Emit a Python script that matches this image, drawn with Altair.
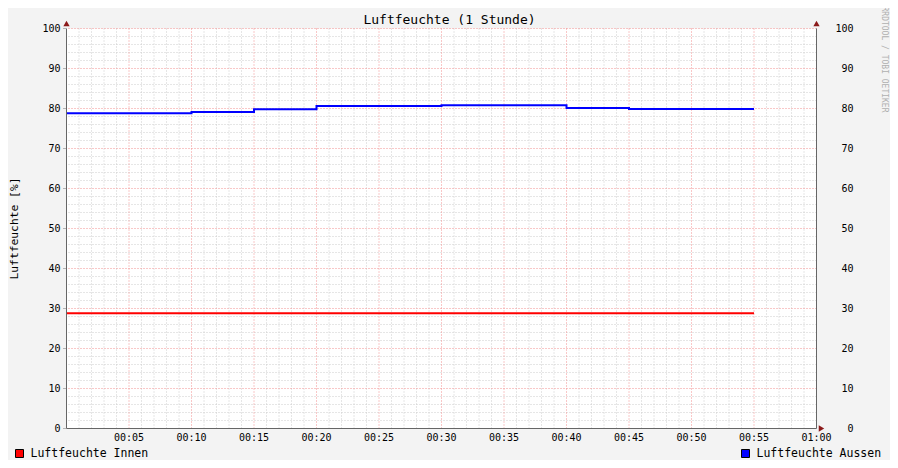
import altair as alt
import pandas as pd

# ---- data ----
minutes_innen = [0, 55]
innen = [28.8, 28.8]
minutes_aussen = [0, 10, 15, 20, 30, 40, 45, 55]
aussen = [78.8, 79.1, 79.8, 80.6, 80.8, 80.1, 79.9, 79.9]

x_labels = [5, 10, 15, 20, 25, 30, 35, 40, 45, 50, 55, 60]
x_label_text = ["00:05", "00:10", "00:15", "00:20", "00:25", "00:30",
                "00:35", "00:40", "00:45", "00:50", "00:55", "01:00"]
y_labels = [0, 10, 20, 30, 40, 50, 60, 70, 80, 90, 100]
x_major = [5, 10, 15, 20, 25, 30, 35, 40, 45, 50, 55]
x_minor = [m for m in range(1, 60) if m % 5 != 0]
y_major = [10, 20, 30, 40, 50, 60, 70, 80, 90, 100]
y_minor = [v for v in range(2, 100, 2) if v % 10 != 0]

series_names = ["Luftfeuchte Innen", "Luftfeuchte Aussen"]
series_colors = ["#ff0000", "#0000ff"]
title_text = "Luftfeuchte (1 Stunde)"
y_title_text = "Luftfeuchte [%]"
watermark_text = "RRDTOOL / TOBI OETIKER"

FONT = "DejaVu Sans Mono"
xs = alt.Scale(domain=[0, 60], nice=False, zero=False)
ys = alt.Scale(domain=[0, 100], nice=False, zero=True)


def X(field):
    return alt.X(field, scale=xs, axis=None)


def Y(field):
    return alt.Y(field, scale=ys, axis=None)


df_in = pd.DataFrame({"m": minutes_innen, "v": innen})
df_out = pd.DataFrame({"m": minutes_aussen, "v": aussen})

minor_x = alt.Chart(pd.DataFrame({"m": x_minor})).mark_rule(
    color="#cccccc", strokeDash=[1, 2], strokeWidth=1
).encode(x=X("m:Q"))

minor_y = alt.Chart(pd.DataFrame({"v": y_minor})).mark_rule(
    color="#cccccc", strokeDash=[1, 2], strokeWidth=1
).encode(y=Y("v:Q"))

major_x = alt.Chart(pd.DataFrame({"m": x_major})).mark_rule(
    color="#f39090", strokeDash=[1, 2], strokeWidth=1
).encode(x=X("m:Q"))

major_y = alt.Chart(pd.DataFrame({"v": y_major})).mark_rule(
    color="#f39090", strokeDash=[1, 2], strokeWidth=1
).encode(y=Y("v:Q"))

line_in = alt.Chart(df_in).mark_line(
    interpolate="step-after", color=series_colors[0], strokeWidth=2
).encode(x=X("m:Q"), y=Y("v:Q"))

line_out = alt.Chart(df_out).mark_line(
    interpolate="step-after", color=series_colors[1], strokeWidth=2
).encode(x=X("m:Q"), y=Y("v:Q"))

# axis lines
axis_v = alt.Chart(pd.DataFrame({"m": [0, 60]})).mark_rule(
    color="#666666", strokeWidth=1
).encode(x=X("m:Q"))
axis_h = alt.Chart(pd.DataFrame({"v": [0]})).mark_rule(
    color="#666666", strokeWidth=1
).encode(y=Y("v:Q"))

# small ticks left of the left axis
ticks_left = alt.Chart(pd.DataFrame({"v": y_labels})).mark_tick(
    color="#999999", thickness=1, size=3, xOffset=-2
).encode(y=Y("v:Q"), x=alt.value(0))

# tick labels
x_lab = alt.Chart(pd.DataFrame({"m": x_labels, "t": x_label_text})).mark_text(
    font=FONT, fontSize=10, align="center", baseline="middle", color="black"
).encode(x=X("m:Q"), y=alt.value(409), text="t:N")

y_lab_left = alt.Chart(pd.DataFrame({"v": y_labels})).mark_text(
    font=FONT, fontSize=10, align="right", baseline="middle", color="black"
).encode(y=Y("v:Q"), x=alt.value(-6), text="v:Q")

y_lab_right = alt.Chart(pd.DataFrame({"v": y_labels})).mark_text(
    font=FONT, fontSize=10, align="right", baseline="middle", color="black"
).encode(y=Y("v:Q"), x=alt.value(787), text="v:Q")

arrows_up = alt.Chart(pd.DataFrame({"m": [0, 60], "v": [100, 100]})).mark_point(
    shape="triangle-up", filled=True, color="#8b1a1a", size=40, yOffset=-5, opacity=1
).encode(x=X("m:Q"), y=Y("v:Q"))

arrow_right = alt.Chart(pd.DataFrame({"m": [60], "v": [0]})).mark_point(
    shape="triangle-right", filled=True, color="#8b1a1a", size=40, xOffset=5, opacity=1
).encode(x=X("m:Q"), y=Y("v:Q"))

title = alt.Chart(pd.DataFrame({"t": [title_text]})).mark_text(
    font=FONT, fontSize=13, align="center", baseline="middle", color="black"
).encode(text="t:N", x=alt.value(383), y=alt.value(-9))

y_title = alt.Chart(pd.DataFrame({"t": [y_title_text]})).mark_text(
    font=FONT, fontSize=11.3, align="center", baseline="middle", angle=270, color="black"
).encode(text="t:N", x=alt.value(-52), y=alt.value(200))

watermark = alt.Chart(pd.DataFrame({"t": [watermark_text]})).mark_text(
    font=FONT, fontSize=8, align="center", baseline="middle", angle=90, color="#b0b0b0"
).encode(text="t:N", x=alt.value(817), y=alt.value(31))

leg_in_box = alt.Chart(pd.DataFrame({"n": [series_names[0]]})).mark_point(
    shape="square", filled=True, fill=series_colors[0], stroke="black",
    strokeWidth=1, size=64, opacity=1
).encode(x=alt.value(-47), y=alt.value(425))
leg_in_txt = alt.Chart(pd.DataFrame({"n": [series_names[0]]})).mark_text(
    font=FONT, fontSize=11.5, align="left", baseline="middle", color="black"
).encode(text="n:N", x=alt.value(-36), y=alt.value(425))

leg_out_box = alt.Chart(pd.DataFrame({"n": [series_names[1]]})).mark_point(
    shape="square", filled=True, fill=series_colors[1], stroke="black",
    strokeWidth=1, size=64, opacity=1
).encode(x=alt.value(679), y=alt.value(425))
leg_out_txt = alt.Chart(pd.DataFrame({"n": [series_names[1]]})).mark_text(
    font=FONT, fontSize=11.5, align="left", baseline="middle", color="black"
).encode(text="n:N", x=alt.value(690), y=alt.value(425))

chart = alt.layer(
    minor_x, minor_y, major_x, major_y, line_in, line_out,
    axis_v, axis_h, ticks_left, x_lab, y_lab_left, y_lab_right,
    arrows_up, arrow_right, title, y_title, watermark,
    leg_in_box, leg_in_txt, leg_out_box, leg_out_txt,
).properties(
    width=750, height=400,
    background="#f3f3f3",
    padding={"left": 58.5, "top": 20.5, "right": 73.5, "bottom": 31.5},
    autosize=alt.AutoSizeParams(type="none"),
).configure_view(fill="white", stroke=None)

chart.save("out.html", embed_options={"renderer": "svg", "actions": False})
